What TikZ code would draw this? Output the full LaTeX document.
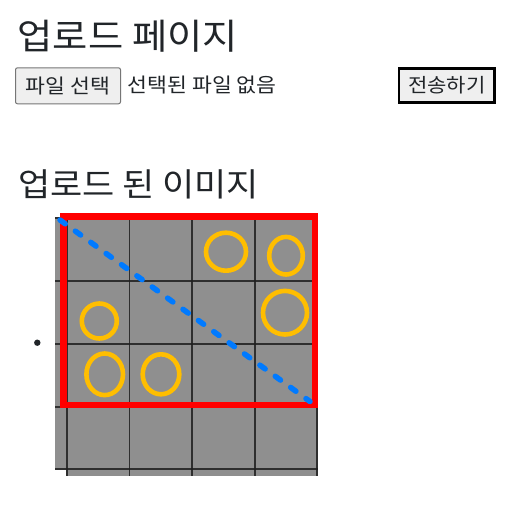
\documentclass[tikz,border=0pt]{standalone}
\usepackage{fontspec}
\newfontfamily\kr[FakeStretch=1.08]{Noto Sans CJK KR}
\definecolor{txt}{HTML}{212529}
\definecolor{imggray}{RGB}{143,143,143}
\definecolor{gridc}{RGB}{30,30,30}
\definecolor{ringc}{RGB}{255,190,0}
\definecolor{dashblue}{RGB}{0,122,255}
\definecolor{btnfill}{HTML}{EFEFEF}
\definecolor{btnborder}{HTML}{767676}
\tikzset{
  label1/.style={inner sep=0pt, text=txt, font=\kr\fontsize{35.5}{40}\selectfont, anchor=west},
  label2/.style={inner sep=0pt, text=txt, font=\kr\fontsize{32.4}{36}\selectfont, anchor=west},
  bodytext/.style={inner sep=0pt, text=txt, font=\kr\fontsize{20}{24}\selectfont},
  filebtn/.style={bodytext, draw=btnborder, fill=btnfill, line width=1pt, rounded corners=2pt, minimum width=105pt, minimum height=36pt},
  sendbtn/.style={bodytext, draw=black, fill=btnfill, line width=2.7pt, minimum width=95.6pt, minimum height=34pt},
  gridline/.style={draw=gridc, line width=1.9pt, opacity=0.85},
  ring/.style={draw=ringc, line width=4.6pt},
  redbox/.style={draw=red, line width=6.5pt},
  bluedash/.style={draw=dashblue, line width=5.5pt, line cap=round, dash pattern=on 6.5pt off 12.5pt},
}
\begin{document}
\begin{tikzpicture}[x=1pt,y=-1pt]
\useasboundingbox (0,0) rectangle (529,506);
\fill[white] (0,0) rectangle (529,506);

% texts and buttons
\node[label1] (h1) at (17.5,36.2) {업로드 페이지};
\node[filebtn] (pick) at (68,85.8) {파일 \hspace{1pt}선택};
\node[bodytext, anchor=west] (none) at (127.5,85.5) {선택된 파일 없음};
\node[sendbtn] (send) at (446.85,85.65) {\fontsize{19.5}{24}\selectfont 전송하기};
\node[label2] (h2) at (17.8,184.6) {업로드 된 이미지};

% bullet
\fill[txt] (37.3,342.7) circle[radius=3.2pt];

% image
\fill[imggray] (55,217) rectangle (318,470);
\fill[imggray] (66,470) rectangle (318,476);
\foreach \gx in {66.7,129.5,192.3,255,316.7} {
  \draw[gridline] (\gx,217) -- (\gx,476);
}
\foreach \gy in {218,280.7,344,406.7,469.3} {
  \draw[gridline] (55,\gy) -- (318,\gy);
}

% rings
\draw[ring] (226,251.7) ellipse[x radius=20pt, y radius=19pt];
\draw[ring] (286,255.7) ellipse[x radius=16.8pt, y radius=18.8pt];
\draw[ring] (285,312.7) ellipse[x radius=22pt, y radius=21.8pt];
\draw[ring] (99.3,321) ellipse[x radius=17.5pt, y radius=17.5pt];
\draw[ring] (104.7,374.3) ellipse[x radius=18.3pt, y radius=20.8pt];
\draw[ring] (161,374.3) ellipse[x radius=18.3pt, y radius=20pt];

% red selection
\draw[redbox] (63.7,216.7) rectangle (315,405);

% blue diagonal
\coordinate (dA) at (60,220);
\coordinate (dB) at (310,401.5);
\draw[bluedash] (dA) -- (dB);
\end{tikzpicture}
\end{document}
